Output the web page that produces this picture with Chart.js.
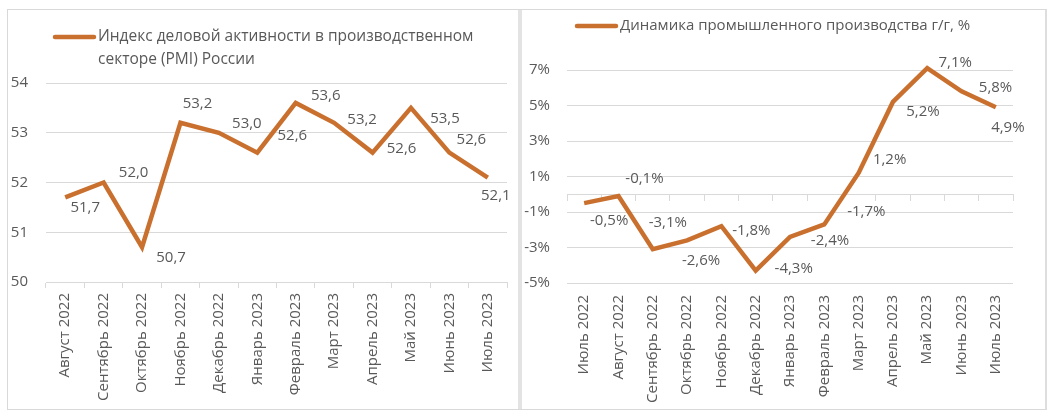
<!DOCTYPE html>
<html>
<head>
<meta charset="utf-8">
<script src="https://cdn.jsdelivr.net/npm/chart.js@4.4.1/dist/chart.umd.min.js"></script>
<style>
  html, body { margin: 0; padding: 0; background: #ffffff; }
  body { width: 1056px; height: 418px; position: relative; overflow: hidden; font-family: "Open Sans", sans-serif; }
  #frame { position: absolute; left: 7px; top: 9px; width: 1037px; height: 399px; border: 1px solid #d9d9d9; border-right: 2px solid #dedede; }
  #divider { position: absolute; left: 518px; top: 10px; width: 4px; height: 399px; background: #e3e3e3; }
  .box { position: absolute; top: 10px; height: 398px; }
  #leftBox { left: 8px; width: 510px; }
  #rightBox { left: 522px; width: 522px; }
</style>
</head>
<body>
<div id="frame"></div>
<div id="divider"></div>
<div class="box" id="leftBox"><canvas id="pmiChart"></canvas></div>
<div class="box" id="rightBox"><canvas id="prodChart"></canvas></div>
<script>
// ---- Data ----
const pmiLabels = ["Август 2022", "Сентябрь 2022", "Октябрь 2022", "Ноябрь 2022", "Декабрь 2022", "Январь 2023",
  "Февраль 2023", "Март 2023", "Апрель 2023", "Май 2023", "Июнь 2023", "Июль 2023"];
const pmiValues = [51.7, 52.0, 50.7, 53.2, 53.0, 52.6, 53.6, 53.2, 52.6, 53.5, 52.6, 52.1];
const pmiTitleLines = ["Индекс деловой активности в производственном", "секторе (PMI) России"];

const prodLabels = ["Июль 2022", "Август 2022", "Сентябрь 2022", "Октябрь 2022", "Ноябрь 2022", "Декабрь 2022",
  "Январь 2023", "Февраль 2023", "Март 2023", "Апрель 2023", "Май 2023", "Июнь 2023", "Июль 2023"];
const prodValues = [-0.5, -0.1, -3.1, -2.6, -1.8, -4.3, -2.4, -1.7, 1.2, 5.2, 7.1, 5.8, 4.9];
const prodTitleLines = ["Динамика промышленного производства г/г, %"];

// ---- Style ----
const LINE = "#C9702F";
const TEXT = "#595959";
const GRID = "#d9d9d9";
const FONT = "'Open Sans', sans-serif";

// label placement (style): offsets from each point
const pmiLabelOffsets = [[20,10],[30,-10],[29,11],[17,-19],[28,-9],[35,-17],[30,-7],[28,-3],[29,-4],[34,11],[22,-13],[8,18]];
const prodLabelOffsets = [[25,18],[26,-17],[15,-27],[14,20],[30,5],[38,-2],[40,4],[42,-13],[31,-13],[30,10],[28,-5],[34,-4],[12,20]];

const labelPlugin = {
  id: 'pointLabels',
  afterDatasetsDraw(chart, args, opts) {
    const ctx = chart.ctx;
    const meta = chart.getDatasetMeta(0);
    const ds = chart.data.datasets[0];
    ctx.save();
    ctx.font = "15px " + FONT;
    ctx.fillStyle = TEXT;
    ctx.textAlign = 'center';
    ctx.textBaseline = 'middle';
    meta.data.forEach((pt, i) => {
      const off = opts.offsets[i] || [0, 0];
      ctx.fillText(opts.format(ds.data[i]), pt.x + off[0], pt.y + off[1]);
    });
    ctx.restore();
  }
};

const legendPlugin = {
  id: 'lineLegend',
  afterDraw(chart, args, opts) {
    const ctx = chart.ctx;
    ctx.save();
    ctx.strokeStyle = LINE;
    ctx.lineWidth = 4.5;
    ctx.lineCap = 'round';
    ctx.beginPath();
    ctx.moveTo(opts.x, opts.y);
    ctx.lineTo(opts.x + 39, opts.y);
    ctx.stroke();
    ctx.font = opts.size + "px " + FONT;
    ctx.fillStyle = TEXT;
    ctx.textAlign = 'left';
    ctx.textBaseline = 'middle';
    opts.lines.forEach((t, i) => ctx.fillText(t, opts.x + 43, opts.y + i * 23));
    ctx.restore();
  }
};

function makeChart(id, labels, values, cfg) {
  return new Chart(document.getElementById(id), {
    type: 'line',
    data: {
      labels: labels,
      datasets: [{
        data: values,
        borderColor: LINE,
        borderWidth: 4.5,
        pointRadius: 0,
        tension: 0,
        borderJoinStyle: 'miter',
        clip: false
      }]
    },
    options: {
      responsive: true,
      maintainAspectRatio: false,
      animation: false,
      events: [],
      layout: { padding: cfg.padding },
      plugins: {
        legend: { display: false },
        tooltip: { enabled: false },
        pointLabels: { offsets: cfg.offsets, format: cfg.format },
        lineLegend: cfg.legend
      },
      scales: cfg.scales
    },
    plugins: [labelPlugin, legendPlugin]
  });
}

const xTickFont = { family: FONT, size: 15 };

makeChart('pmiChart', pmiLabels, pmiValues, {
  padding: { left: 0, right: 11, top: 73, bottom: 2 },
  offsets: pmiLabelOffsets,
  format: v => v.toFixed(1).replace('.', ','),
  legend: { x: 47, y: 27, lines: pmiTitleLines, size: 15.5 },
  scales: {
    x: {
      type: 'category',
      offset: true,
      grid: { offset: true, drawOnChartArea: false, drawTicks: true, tickLength: 6, color: GRID },
      border: { display: true, color: GRID, width: 1 },
      ticks: { autoSkip: false, minRotation: 90, maxRotation: 90, padding: 5, color: TEXT, font: xTickFont },
      afterFit(s) { s.height = 124; }
    },
    y: {
      min: 50, max: 54,
      ticks: { stepSize: 1, padding: 18, color: TEXT, font: { family: FONT, size: 15 } },
      grid: { color: GRID, drawTicks: false },
      border: { display: false },
      afterFit(s) { s.width = 38; }
    }
  }
});

makeChart('prodChart', prodLabels, prodValues, {
  padding: { left: 0, right: 31, top: 60, bottom: 1 },
  offsets: prodLabelOffsets,
  format: v => v.toFixed(1).replace('.', ',') + '%',
  legend: { x: 55, y: 16, lines: prodTitleLines, size: 15 },
  scales: {
    x: {
      type: 'category',
      offset: true,
      grid: { display: false, drawTicks: false },
      border: { display: false },
      ticks: { autoSkip: false, minRotation: 90, maxRotation: 90, padding: 12, color: TEXT, font: xTickFont },
      afterFit(s) { s.height = 124; }
    },
    x0: {
      type: 'category',
      position: { y: 0 },
      offset: true,
      grid: { offset: true, drawOnChartArea: false, drawTicks: true, tickLength: 6, color: GRID },
      border: { display: true, color: GRID, width: 1 },
      ticks: { display: false }
    },
    y: {
      min: -5, max: 7,
      ticks: { stepSize: 2, padding: 17, color: TEXT, font: { family: FONT, size: 15 }, callback: v => v + '%' },
      grid: { color: GRID, drawTicks: false },
      border: { display: false },
      afterFit(s) { s.width = 45; }
    }
  }
});
</script>
</body>
</html>
